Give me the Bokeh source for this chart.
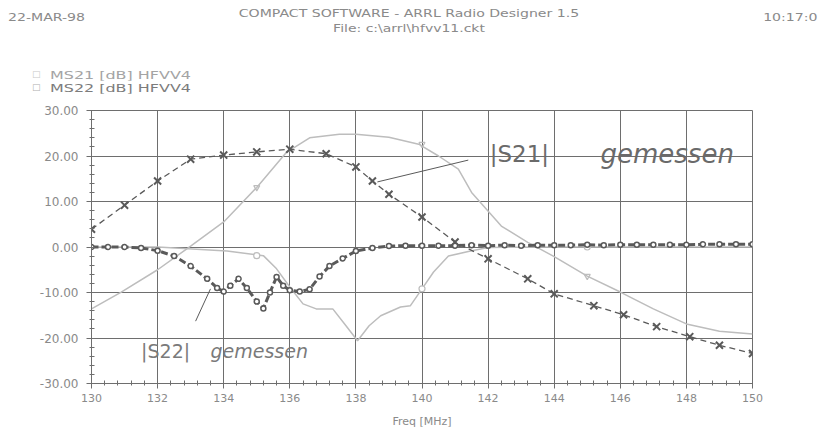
from bokeh.plotting import figure
from bokeh.layouts import column
from bokeh.models import Label, Range1d, FixedTicker, NumeralTickFormatter, Div
from bokeh.embed import file_html
from bokeh.resources import INLINE

# ---- data ----
freq_s21_sim = [130, 130.9, 132, 133, 134, 135, 135.9, 136.6, 137.5, 138, 139, 139.9, 140.5,
                141.1, 141.5, 142.4, 143.2, 144, 145, 146, 147, 148, 149, 150]
s21_sim = [-13.6, -9.9, -5.0, 0.2, 5.5, 13.1, 20.8, 24.0, 24.8, 24.8, 24.1, 22.6, 20.0,
           17.1, 12.0, 4.6, 1.0, -2.1, -6.4, -9.9, -13.6, -16.9, -18.5, -19.1]

freq_s22_sim = [130, 132, 134.1, 135.2, 135.6, 136, 136.4, 136.8, 137.3, 137.7, 138.05, 138.4,
                138.75, 139.35, 139.65, 140, 140.35, 140.8, 141.4, 142, 144, 146, 148, 150]
s22_sim = [0, 0, -0.9, -1.9, -4.8, -8.8, -12.5, -13.6, -13.6, -17.3, -20.6, -17.3,
           -15.1, -13.2, -12.9, -9.2, -5.5, -2.0, -1.0, -0.1, 0, 0, 0, 0]

sim_marker_freq = [135, 140, 145]
s21_sim_marker = [13.1, 22.6, -6.4]
s22_sim_marker = [-1.9, -9.2, 0]

freq_s21_meas = [130, 131, 132, 133, 134, 135, 136, 137.1, 138, 138.5, 139, 140, 141, 142,
                 143.2, 144, 145.2, 146.1, 147.1, 148.1, 149, 150]
s21_meas = [3.9, 9.2, 14.5, 19.3, 20.2, 20.9, 21.5, 20.5, 17.6, 14.5, 11.6, 6.6, 1.1, -2.6,
            -7.0, -10.3, -12.9, -14.9, -17.5, -19.7, -21.6, -23.4]

freq_s22_meas = [130, 130.5, 131, 131.5, 132, 132.5, 133, 133.5, 133.8, 134, 134.2, 134.45,
                 134.7, 135, 135.2, 135.4, 135.6, 135.8, 136, 136.3, 136.6, 136.9, 137.2,
                 137.6, 138, 138.5, 139, 139.5, 140, 140.5, 141, 141.5, 142, 142.5, 143,
                 143.5, 144, 144.5, 145, 145.5, 146, 146.5, 147, 147.5, 148, 148.5, 149,
                 149.5, 150]
s22_meas = [0.0, 0.0, 0.0, -0.2, -0.8, -2.0, -4.2, -7.0, -9.0, -9.8, -8.5, -7.0,
            -9.0, -12.0, -13.5, -10.0, -6.6, -8.5, -9.5, -9.8, -9.3, -6.5, -4.2,
            -2.5, -0.9, -0.2, 0.2, 0.3, 0.3, 0.3, 0.3, 0.4, 0.3, 0.4, 0.3,
            0.4, 0.4, 0.4, 0.5, 0.4, 0.5, 0.5, 0.5, 0.5, 0.5, 0.6, 0.6,
            0.6, 0.6]

x_ticks = [130, 132, 134, 136, 138, 140, 142, 144, 146, 148, 150]
y_ticks = [-30, -20, -10, 0, 10, 20, 30]

header_left = "22-MAR-98"
header_title = "COMPACT SOFTWARE - ARRL Radio Designer 1.5"
header_file = "File: c:\\arrl\\hfvv11.ckt"
header_time = "10:17:0"
legend_names = ["MS21 [dB] HFVV4", "MS22 [dB] HFVV4"]

# annotation pointer lines (handwritten)
s21_note_x = [138.65, 141.4]
s21_note_y = [14.3, 19.1]
s22_note_x = [133.15, 133.6]
s22_note_y = [-16.3, -9.2]

FONT = "DejaVu Sans"
TXT = "#8a8a8a"
GRID = "#6e6e6e"
LIGHT = "#bdbdbd"
DARK = "#5a5a5a"

# ---------- header strip (HTML) ----------
base = ("position:absolute;white-space:nowrap;font-family:'DejaVu Sans';"
        "line-height:1;")


def span(style, text):
    return f'<span style="{base}{style}">{text}</span>'


header_html = (
    '<div style="position:relative;width:819px;height:100px;overflow:hidden;'
    f'color:{TXT};font-size:11px;">'
    + span("left:8px;top:12px;transform-origin:0 50%;transform:scaleX(1.28);", header_left)
    + span("left:409px;top:8px;transform:translateX(-50%) scaleX(1.28);", header_title)
    + span("left:409px;top:23px;transform:translateX(-50%) scaleX(1.27);", header_file)
    + span("right:2px;top:12px;transform-origin:100% 50%;transform:scaleX(1.28);", header_time)
    + span("left:32px;top:70px;font-size:9px;color:#c8c8c8;", "&#9633;")
    + span("left:50px;top:70px;font-size:11px;color:#a4a4a4;transform-origin:0 50%;"
           "transform:scaleX(1.45);", legend_names[0])
    + span("left:32px;top:83px;font-size:9px;color:#b0b0b0;", "&#9633;")
    + span("left:50px;top:83px;font-size:11px;color:#7c7c7c;transform-origin:0 50%;"
           "transform:scaleX(1.45);", legend_names[1])
    + '</div>'
)
h = Div(text=header_html, width=819, height=100, margin=0)

# ---------- main chart ----------
p = figure(width=819, height=333, output_backend="svg", toolbar_location=None,
           x_range=Range1d(130, 150), y_range=Range1d(-30, 30),
           min_border_left=91, min_border_right=67, min_border_top=10,
           min_border_bottom=50, margin=0)
p.outline_line_color = GRID
p.background_fill_color = "white"
p.border_fill_color = "white"

for ax in (p.xaxis[0], p.yaxis[0]):
    ax.axis_line_color = GRID
    ax.major_tick_line_color = GRID
    ax.minor_tick_line_color = GRID
    ax.major_tick_in = 0
    ax.major_tick_out = 5
    ax.minor_tick_in = 3
    ax.minor_tick_out = 2
    ax.major_label_text_font = FONT
    ax.major_label_text_font_size = "11px"
    ax.major_label_text_color = TXT

p.yaxis.major_label_text_font_size = "12px"
p.xaxis.ticker = FixedTicker(ticks=x_ticks,
                             minor_ticks=[130 + 0.4 * i for i in range(51)])
p.yaxis.ticker = FixedTicker(ticks=y_ticks,
                             minor_ticks=[-30 + 2 * i for i in range(31)])
p.yaxis.formatter = NumeralTickFormatter(format="0.00")
p.xaxis.axis_label = "Freq [MHz]"
p.xaxis.axis_label_text_font = FONT
p.xaxis.axis_label_text_font_size = "11px"
p.xaxis.axis_label_text_font_style = "normal"
p.xaxis.axis_label_text_color = TXT
p.xaxis.axis_label_standoff = 10
p.yaxis.major_label_standoff = 8

p.xgrid.grid_line_color = GRID
p.ygrid.grid_line_color = GRID

# simulated curves (light)
p.line(freq_s21_sim, s21_sim, line_color=LIGHT, line_width=1.5)
p.line(freq_s22_sim, s22_sim, line_color=LIGHT, line_width=1.5)
p.scatter(sim_marker_freq, s21_sim_marker, marker="inverted_triangle", size=6,
          fill_color=None, line_color=LIGHT, line_width=1.2)
p.scatter(sim_marker_freq, s22_sim_marker, marker="circle", size=6,
          fill_color="white", line_color=LIGHT, line_width=1.2)

# measured curves (dark, dashed)
p.line(freq_s21_meas, s21_meas, line_color=DARK, line_width=1.3, line_dash="6 4")
p.scatter(freq_s21_meas, s21_meas, marker="x", size=10, line_color=DARK, line_width=2)
p.line(freq_s22_meas, s22_meas, line_color=DARK, line_width=3, line_dash="7 3")
p.scatter(freq_s22_meas, s22_meas, marker="circle", size=5, fill_color="white",
          line_color=DARK, line_width=1.5)

# handwritten notes
p.line(s21_note_x, s21_note_y, line_color=DARK, line_width=1)
p.line(s22_note_x, s22_note_y, line_color=DARK, line_width=1)

p.add_layout(Label(x=142.05, y=20.4, text="|S21|", text_font=FONT,
                   text_font_size="23px", text_color="#6a6a6a", text_baseline="middle"))
p.add_layout(Label(x=145.4, y=20.4, text="gemessen", text_font=FONT,
                   text_font_size="26px", text_font_style="italic",
                   text_color="#6a6a6a", text_baseline="middle"))
p.add_layout(Label(x=131.5, y=-22.9, text="|S22|", text_font=FONT,
                   text_font_size="19px", text_color="#7a7a7a", text_baseline="middle"))
p.add_layout(Label(x=133.6, y=-22.9, text="gemessen", text_font=FONT,
                   text_font_size="19px", text_font_style="italic",
                   text_color="#7a7a7a", text_baseline="middle"))

layout = column(h, p, spacing=0)
open("out.html", "w").write(file_html(layout, INLINE))
